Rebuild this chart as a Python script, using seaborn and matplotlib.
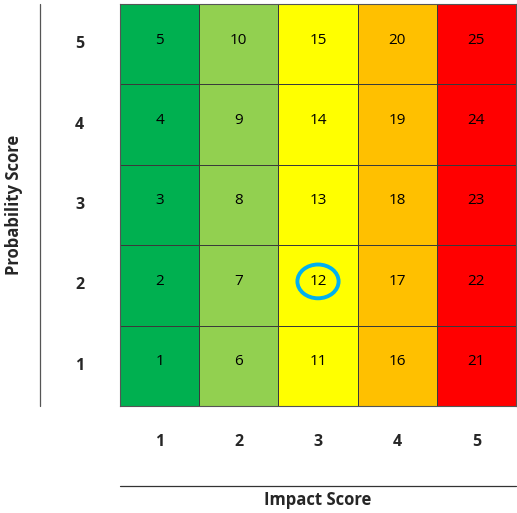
import matplotlib
matplotlib.use("Agg")
import matplotlib.pyplot as plt
import matplotlib.transforms as mtransforms
import pandas as pd
import seaborn as sns
from matplotlib.colors import ListedColormap
from matplotlib.patches import Ellipse

sns.set_theme(style="white")
plt.rcParams["font.family"] = ["Open Sans", "DejaVu Sans"]

impact = [1, 2, 3, 4, 5]
probability = [5, 4, 3, 2, 1]
band_colors = ["#00B050", "#92D050", "#FFFF00", "#FFC000", "#FF0000"]
score_rows = [
    [5, 10, 15, 20, 25],
    [4, 9, 14, 19, 24],
    [3, 8, 13, 18, 23],
    [2, 7, 12, 17, 22],
    [1, 6, 11, 16, 21],
]
highlight = (3, 2)  # impact, probability

scores = pd.DataFrame(score_rows, index=probability, columns=impact)
bands = pd.DataFrame(
    [list(range(len(impact))) for _ in probability],
    index=probability,
    columns=impact,
)

fig = plt.figure(figsize=(5.17, 5.13), dpi=100)
ax = fig.add_axes([120 / 517, 1 - 406 / 513, 396 / 517, 402 / 513])

sns.heatmap(
    bands,
    cmap=ListedColormap(band_colors),
    vmin=-0.5,
    vmax=len(impact) - 0.5,
    annot=scores,
    fmt="d",
    annot_kws={"color": "black", "fontsize": 11},
    linewidths=0.7,
    linecolor="#3a3a3a",
    cbar=False,
    ax=ax,
)

# numbers sit a touch above the cell centre, like in the sheet
lift = mtransforms.offset_copy(ax.transData, fig=fig, x=0, y=4, units="dots")
for t in ax.texts:
    t.set_transform(lift)

for side in ax.spines.values():
    side.set_visible(True)
    side.set_color("#555555")
    side.set_linewidth(0.8)

ax.tick_params(axis="both", length=0)
ax.tick_params(axis="y", pad=29, labelrotation=0)
ax.tick_params(axis="x", pad=20)
for lbl in ax.get_xticklabels() + ax.get_yticklabels():
    lbl.set_fontweight("bold")
    lbl.set_fontsize(11.5)
for lbl in ax.get_yticklabels():
    lbl.set_horizontalalignment("center")

ax.set_xlabel("")
ax.set_ylabel("")

# highlight circle
col = impact.index(highlight[0]) + 0.5
row = probability.index(highlight[1]) + 0.5
ax.add_patch(Ellipse((col, row), width=0.52, height=0.42, fill=False,
                     edgecolor="#00B0F0", linewidth=2.8, clip_on=False,
                     transform=lift))

# axis rules
ax.plot([-80 / 396, -80 / 396], [0, 1], transform=ax.transAxes, color="#555555",
        linewidth=0.9, clip_on=False)
ax.plot([0, 1], [-80 / 402, -80 / 402], transform=ax.transAxes, color="#333333",
        linewidth=0.9, clip_on=False)

fig.text(318 / 517, 1 - 500 / 513, "Impact Score", ha="center", va="center",
         fontsize=12, fontweight="bold")
fig.text(14 / 517, 1 - 205 / 513, "Probability Score", ha="center", va="center",
         rotation=90, fontsize=12, fontweight="bold")

fig.savefig("out.png", dpi=100)
